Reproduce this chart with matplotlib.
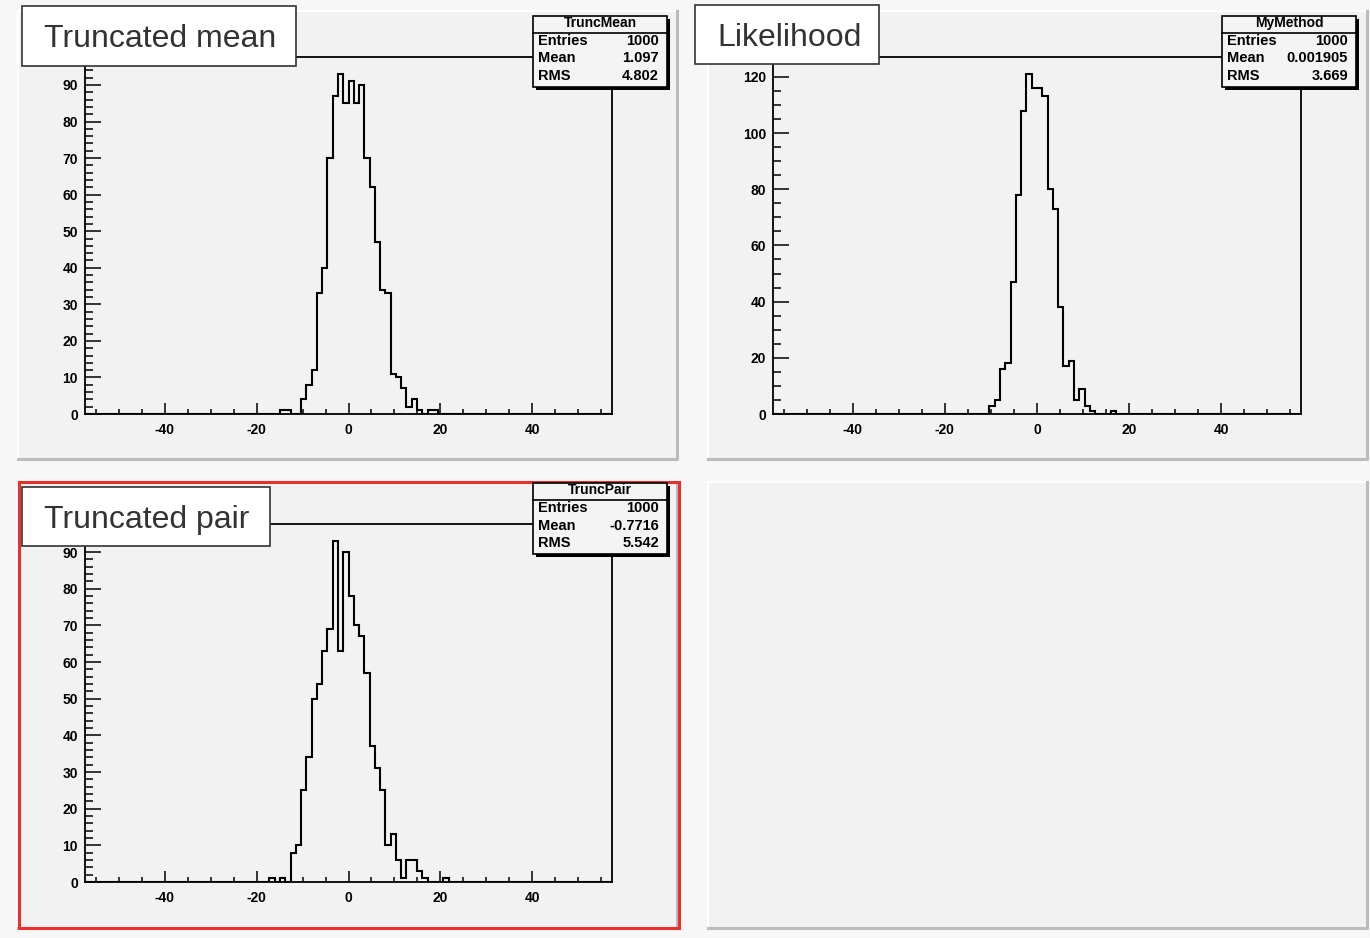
import matplotlib
matplotlib.use('Agg')
import matplotlib.pyplot as plt
from matplotlib.patches import Rectangle
from matplotlib.lines import Line2D
from matplotlib.ticker import MultipleLocator
import numpy as np

plt.rcParams['font.family'] = ['Liberation Sans', 'DejaVu Sans']

W, H = 1370, 938

# binning shared by the three histograms
NBINS = 100
XMIN, XMAX = -57.3, 57.3

# bin contents, starting at the given bin number
trunc_mean_first = 37
trunc_mean_counts = [1, 1, 0, 0, 4, 8, 12, 33, 40, 70, 87, 93, 85, 91, 85, 90,
                     70, 62, 47, 34, 33, 11, 10, 7, 2, 4, 1, 0, 1, 1]
likelihood_first = 41
likelihood_counts = [3, 5, 16, 18, 47, 78, 108, 121, 116, 116, 113, 80, 73, 38,
                     17, 19, 5, 9, 3, 1, 0, 0, 0, 1]
trunc_pair_first = 35
trunc_pair_counts = [1, 0, 1, 0, 8, 10, 25, 34, 50, 54, 63, 69, 93, 63, 90, 78,
                     70, 67, 57, 37, 31, 25, 10, 13, 6, 1, 6, 6, 3, 1, 0, 0, 0, 1]

titles = ['Truncated mean', 'Likelihood', 'Truncated pair']
stat_names = ['TruncMean', 'MyMethod', 'TruncPair']
stat_entries = ['1000', '1000', '1000']
stat_means = ['1.097', '0.001905', '-0.7716']
stat_rms = ['4.802', '3.669', '5.542']
x_ticks = [-40, -20, 0, 20, 40]
y_steps = [(10, 2), (20, 5), (10, 2)]

# pixel layout (top-left origin)
pads = [(18, 11, 677, 459), (708, 11, 1367, 459),
        (18, 482, 677, 928), (708, 482, 1367, 928)]
frames = [(85, 57, 612, 414), (773, 57, 1301, 414), (85, 524, 612, 882)]
title_boxes = [(22, 6, 296, 66), (695, 5, 879, 64), (22, 487, 270, 546)]

fig = plt.figure(figsize=(W / 100, H / 100), dpi=100)
fig.patch.set_facecolor('#f7f7f7')


def rect_px(x0, y0, x1, y1, **kw):
    r = Rectangle((x0 / W, 1 - y1 / H), (x1 - x0) / W, (y1 - y0) / H,
                  transform=fig.transFigure, **kw)
    fig.patches.append(r)
    return r


def line_px(xs, ys, **kw):
    l = Line2D([x / W for x in xs], [1 - y / H for y in ys],
               transform=fig.transFigure, **kw)
    fig.lines.append(l)


def text_px(x, y, s, **kw):
    fig.text(x / W, 1 - y / H, s, **kw)


# pads with bevelled edges
for (x0, y0, x1, y1) in pads:
    rect_px(x0, y0, x1, y1, facecolor='#f2f2f2', edgecolor='none', zorder=-3)
    line_px([x0, x0, x1], [y1, y0, y0], color='white', lw=1.5, zorder=-2)
    line_px([x0, x1, x1], [y1, y1, y0], color='#bcbcbc', lw=2.2, zorder=-2)
# selected pad
rect_px(19, 482, 679, 928, facecolor='none', edgecolor='#e8302c', lw=2.2, zorder=-1)

edges = np.linspace(XMIN, XMAX, NBINS + 1)
series = [(trunc_mean_first, trunc_mean_counts),
          (likelihood_first, likelihood_counts),
          (trunc_pair_first, trunc_pair_counts)]

for i, (first, vals) in enumerate(series):
    counts = np.zeros(NBINS)
    counts[first:first + len(vals)] = vals
    x0, y0, x1, y1 = frames[i]
    ax = fig.add_axes([x0 / W, 1 - y1 / H, (x1 - x0) / W, (y1 - y0) / H])
    ax.set_facecolor('none')
    ax.stairs(counts, edges, color='black', lw=1.5)
    ymax = 1.05 * counts.max()
    ax.set_xlim(XMIN, XMAX)
    ax.set_ylim(0, ymax)
    for sp in ax.spines.values():
        sp.set_linewidth(1.3)
    ax.set_xticks(x_ticks)
    ax.set_xticklabels([str(t) for t in x_ticks], fontweight='bold', fontsize=10)
    major, minor = y_steps[i]
    yt = np.arange(0, ymax, major)
    ax.set_yticks(yt)
    ax.set_yticklabels([str(int(t)) for t in yt], fontweight='bold', fontsize=10)
    ax.xaxis.set_minor_locator(MultipleLocator(5))
    ax.yaxis.set_minor_locator(MultipleLocator(minor))
    ax.tick_params(axis='x', which='major', direction='in', length=7.7, width=1.1, pad=6.5)
    ax.tick_params(axis='x', which='minor', direction='in', length=3.9, width=1.1)
    ax.tick_params(axis='y', which='major', direction='in', length=11.5, width=1.1, pad=5)
    ax.tick_params(axis='y', which='minor', direction='in', length=5.8, width=1.1)

    # stats box
    top = y0
    bx0 = x1 - 79
    bx1 = bx0 + 134
    by0, by1 = top - 41, top + 30
    rect_px(bx0 + 3, by0 + 3, bx1 + 3, by1 + 3, facecolor='black', edgecolor='none', zorder=4)
    rect_px(bx0, by0, bx1, by1, facecolor='#f4f4f4', edgecolor='black', lw=1.2, zorder=5)
    line_px([bx0, bx1], [top - 24, top - 24], color='black', lw=1.2, zorder=6)
    text_px((bx0 + bx1) / 2, top - 34, stat_names[i], ha='center', va='center',
            fontsize=10, fontweight='bold', zorder=7)
    rows = [('Entries', stat_entries[i]), ('Mean', stat_means[i]), ('RMS', stat_rms[i])]
    for k, (name, val) in enumerate(rows):
        yy = top - 16 + k * 17.5
        text_px(bx0 + 5, yy, name, ha='left', va='center', fontsize=10.5,
                fontweight='bold', zorder=7)
        text_px(bx1 - 8, yy, val, ha='right', va='center', fontsize=10.5,
                fontweight='bold', zorder=7)

    # title box
    tx0, ty0, tx1, ty1 = title_boxes[i]
    rect_px(tx0, ty0, tx1, ty1, facecolor='white', edgecolor='#333333', lw=1.2, zorder=5)
    text_px(tx0 + 22, (ty0 + ty1) / 2 + 3, titles[i], ha='left', va='center',
            fontsize=23, color='#333333', zorder=7)

fig.savefig('out.png', dpi=100, facecolor=fig.get_facecolor())
